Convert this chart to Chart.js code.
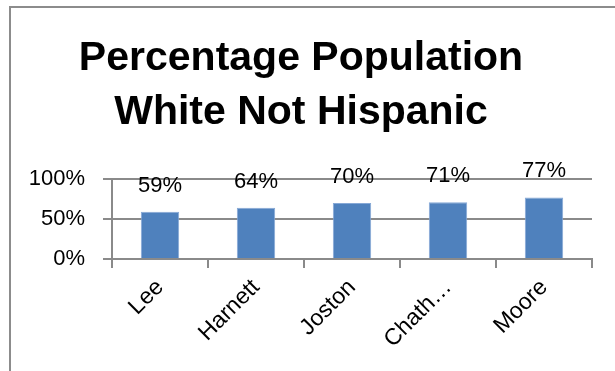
<!DOCTYPE html>
<html lang="en">
<head>
    <meta charset="UTF-8">
    <title>Percentage Population White Not Hispanic</title>
    <script src="https://cdn.jsdelivr.net/npm/chart.js"></script>
    <style>
        html, body {
            margin: 0;
            padding: 0;
            background: #fff;
            overflow: hidden;
        }
        .frame {
            position: absolute;
            left: 9px;
            top: 6px;
            right: 0;
            bottom: 0;
            border-left: 2px solid #8c8c8c;
            border-top: 2px solid #8c8c8c;
        }
        #popChart {
            position: absolute;
            left: 10px;
            top: 0;
        }
    </style>
</head>
<body>

    <div class="frame"></div>
    <canvas id="popChart" width="610" height="371"></canvas>

    <script>
        // Counties and their share of white non-hispanic residents (%)
        const counties = ['Lee', 'Harnett', 'Joston', 'Chath\u2026', 'Moore'];
        const whitePct = [59, 64, 70, 71, 77];
        const yTicks = [0, 50, 100];

        const FONT = '"Liberation Sans", Arial, sans-serif';
        const GRID = '#8a8a8a';

        // Percent labels drawn above each bar
        const valueLabels = {
            id: 'valueLabels',
            afterDatasetsDraw(chart) {
                const ctx = chart.ctx;
                const meta = chart.getDatasetMeta(0);
                ctx.save();
                ctx.font = '22px ' + FONT;
                ctx.fillStyle = '#000';
                ctx.textAlign = 'center';
                ctx.textBaseline = 'alphabetic';
                meta.data.forEach((bar, i) => {
                    ctx.fillText(whitePct[i] + '%', bar.x, bar.y - 20);
                });
                ctx.restore();
            }
        };

        const ctx = document.getElementById('popChart').getContext('2d');
        const popChart = new Chart(ctx, {
            type: 'bar',
            data: {
                labels: counties,
                datasets: [{
                    data: whitePct,
                    backgroundColor: '#4f81bd',
                    borderColor: '#86a8d6',
                    borderWidth: { top: 1, left: 1, right: 1, bottom: 0 },
                    borderSkipped: 'bottom',
                    barPercentage: 0.4,
                    categoryPercentage: 1
                }]
            },
            options: {
                responsive: false,
                animation: false,
                layout: {
                    padding: { top: 0, left: 0, right: 28, bottom: 0 }
                },
                plugins: {
                    legend: { display: false },
                    tooltip: { enabled: false },
                    title: {
                        display: true,
                        text: ['Percentage Population', 'White Not Hispanic'],
                        color: '#000',
                        font: { family: FONT, size: 41, weight: 'bold', lineHeight: 54 / 41 },
                        padding: { top: 32, bottom: 39 }
                    }
                },
                scales: {
                    x: {
                        afterFit: s => { s.height = 112; },
                        grid: {
                            offset: true,
                            drawOnChartArea: false,
                            drawTicks: true,
                            tickLength: 9,
                            color: GRID,
                            lineWidth: 2
                        },
                        border: { display: true, color: GRID, width: 2 },
                        ticks: {
                            autoSkip: false,
                            minRotation: 45,
                            maxRotation: 45,
                            padding: 6,
                            color: '#000',
                            font: { family: FONT, size: 23 }
                        }
                    },
                    y: {
                        min: 0,
                        max: 100,
                        afterFit: s => { s.width = 102; },
                        afterBuildTicks: s => { s.ticks = yTicks.map(v => ({ value: v })); },
                        grid: {
                            color: GRID,
                            lineWidth: 2,
                            tickLength: 9
                        },
                        border: { display: true, color: GRID, width: 2 },
                        ticks: {
                            padding: 18,
                            color: '#000',
                            font: { family: FONT, size: 22 },
                            callback: v => v + '%'
                        }
                    }
                }
            },
            plugins: [valueLabels]
        });
    </script>

</body>
</html>
